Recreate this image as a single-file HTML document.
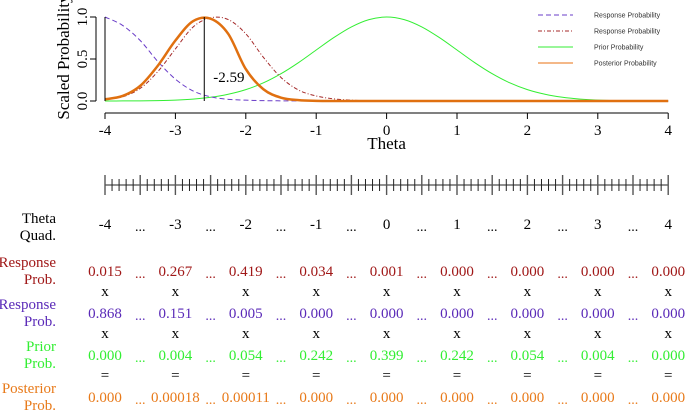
<!DOCTYPE html>
<html><head><meta charset="utf-8"><style>
body{margin:0;background:#fff}
svg{display:block;font-family:"Liberation Serif",serif}
</style></head><body>
<svg id="c" width="685" height="410" viewBox="0 0 685 410"></svg>
<script>
const thetaGrid=[-4,-3.75,-3.5,-3.25,-3,-2.75,-2.5,-2.25,-2,-1.75,-1.5,-1.25,-1,-0.75,-0.5,-0.25,0,0.25,0.5,0.75,1,1.25,1.5,1.75,2,2.25,2.5,2.75,3,3.25,3.5,3.75,4];
const purpleVals=[1.0,0.9,0.72,0.47,0.26,0.12,0.05,0.02,0.01,0.004,0.002,0.001,0,0,0,0,0,0,0,0,0,0,0,0,0,0,0,0,0,0,0,0,0];
const redVals=[0.02,0.05,0.15,0.35,0.62,0.88,0.99,0.97,0.8,0.52,0.28,0.13,0.06,0.025,0.01,0.004,0.001,0,0,0,0,0,0,0,0,0,0,0,0,0,0,0,0];
const greenVals=[0.0003,0.0009,0.002,0.005,0.011,0.023,0.044,0.08,0.135,0.216,0.325,0.458,0.607,0.755,0.882,0.969,1,0.969,0.882,0.755,0.607,0.458,0.325,0.216,0.135,0.08,0.044,0.023,0.011,0.005,0.002,0.0009,0.0003];
const orangeVals=[0.02,0.06,0.18,0.42,0.72,0.95,0.98,0.8,0.38,0.14,0.04,0.01,0.002,0,0,0,0,0,0,0,0,0,0,0,0,0,0,0,0,0,0,0,0];
const xTicks=[-4,-3,-2,-1,0,1,2,3,4];
const yTicks=[0,0.5,1];
const yTickLabels=["0.0","0.5","1.0"];
const posteriorMode=-2.59;
const quadLabels=["-4","-3","-2","-1","0","1","2","3","4"];
const respRed=["0.015","0.267","0.419","0.034","0.001","0.000","0.000","0.000","0.000"];
const respPurple=["0.868","0.151","0.005","0.000","0.000","0.000","0.000","0.000","0.000"];
const priorVals=["0.000","0.004","0.054","0.242","0.399","0.242","0.054","0.004","0.000"];
const postVals=["0.000","0.00018","0.00011","0.000","0.000","0.000","0.000","0.000","0.000"];

const NS="http://www.w3.org/2000/svg";
const svg=document.getElementById('c');
const X=t=>105+(t+4)*70.4;
const Y=v=>101-v*84;
function el(tag,attrs,parent){const e=document.createElementNS(NS,tag);for(const k in attrs)e.setAttribute(k,attrs[k]);(parent||svg).appendChild(e);return e;}
function txt(s,x,y,attrs){const e=el('text',Object.assign({x:x,y:y},attrs||{}));e.textContent=s;return e;}
function smooth(xs,ys){const p=xs.map((t,i)=>[X(t),Y(ys[i])]);let d="M"+p[0][0]+","+p[0][1];
for(let i=0;i<p.length-1;i++){const p0=p[Math.max(0,i-1)],p1=p[i],p2=p[i+1],p3=p[Math.min(p.length-1,i+2)];
d+=" C"+(p1[0]+(p2[0]-p0[0])/6)+","+(p1[1]+(p2[1]-p0[1])/6)+" "+(p2[0]-(p3[0]-p1[0])/6)+","+(p2[1]-(p3[1]-p1[1])/6)+" "+p2[0]+","+p2[1];}return d;}

let g=el('g',{});

el('line',{x1:X(-4),y1:113,x2:X(4),y2:113,stroke:'#000','stroke-width':1},g);
xTicks.forEach(t=>{el('line',{x1:X(t),y1:113,x2:X(t),y2:119,stroke:'#000'},g);const l=txt(String(t),X(t),135,{'text-anchor':'middle','font-size':15});g.appendChild(l);});
const xt=txt("Theta",X(0),149,{'text-anchor':'middle','font-size':17});

let gy=el('g',{});

el('line',{x1:96,y1:Y(0),x2:96,y2:Y(1),stroke:'#000'},gy);
yTicks.forEach((v,i)=>{el('line',{x1:90,y1:Y(v),x2:96,y2:Y(v),stroke:'#000'},gy);const l=txt(yTickLabels[i],0,0,{'text-anchor':'middle','font-size':15,transform:`translate(87,${Y(v)}) rotate(-90)`});gy.appendChild(l);});
const yt=txt("Scaled Probability",0,0,{'text-anchor':'middle','font-size':17,transform:'translate(69,57) rotate(-90)'});


const s1=el('path',{d:smooth(thetaGrid,greenVals),fill:'none',stroke:'#33ee33','stroke-width':1});

const s2=el('path',{d:smooth(thetaGrid,purpleVals),fill:'none',stroke:'#6a3dc8','stroke-width':1,'stroke-dasharray':'5,3'});

const s3=el('path',{d:smooth(thetaGrid,redVals),fill:'none',stroke:'#a52a2a','stroke-width':1,'stroke-dasharray':'4,2,1,2'});

const s4=el('path',{d:smooth(thetaGrid,orangeVals),fill:'none',stroke:'#e07010','stroke-width':2.5});

const v1=el('line',{x1:X(-4),y1:Y(0),x2:X(-4),y2:Y(1),stroke:'#000'});

const v2=el('line',{x1:X(posteriorMode),y1:Y(0),x2:X(posteriorMode),y2:Y(1),stroke:'#000'});

const ml=txt(String(posteriorMode),X(posteriorMode)+9,82,{'font-size':15});


const leg=[["Response Probability",'#6a3dc8','5,3',1],["Response Probability",'#a52a2a','4,2,1,2',1],["Prior Probability",'#33ee33','',1],["Posterior Probability",'#f0a060','',1.5]];
leg.forEach((L,i)=>{const y=15+i*16;const lg=el('g',{});

el('line',{x1:538,y1:y,x2:573,y2:y,stroke:L[1],'stroke-width':L[3],'stroke-dasharray':L[2]},lg);
const t=txt(L[0],594,y+2.5,{'font-size':7,'font-family':'Liberation Sans, sans-serif',fill:'#333'});lg.appendChild(t);});

const rg=el('g',{});

el('line',{x1:X(-4),y1:185,x2:X(4),y2:185,stroke:'#222'},rg);
for(let i=0;i<=80;i++){const x=X(-4)+i*7.04;const maj=i%5===0;el('line',{x1:x,y1:maj?175:179,x2:x,y2:maj?195:191,stroke:maj?'#555':'#222','stroke-width':maj?1.4:1},rg);}

function label(lines,color,y0){const t=el('text',{'text-anchor':'end','font-size':15,fill:color});lines.forEach((s,i)=>{const ts=el('tspan',{x:56,y:y0+i*17},t);ts.textContent=s;});return t;}
const rows=[[["Theta","Quad."],'#000',218,quadLabels,229],[["Response","Prob."],'#a01818',262,respRed,276],[["Response","Prob."],'#5a2ab8',304,respPurple,318],[["Prior","Prob."],'#33ee33',346,priorVals,360],[["Posterior","Prob."],'#e87a1a',388,postVals,402]];
rows.forEach((r,ri)=>{const lb=label(r[0],r[1],r[2]+5);

r[3].forEach((v,i)=>{const c=txt(v,X(i-4),r[4],{'text-anchor':'middle','font-size':15,fill:r[1]});

if(i<8){const d=txt("...",X(i-3.5),r[4]+2,{'text-anchor':'middle','font-size':14,fill:r[1]});
}});});
const ops=[["x",296],["x",338],["=",380]];
ops.forEach(o=>{for(let i=0;i<9;i++){const t=txt(o[0],X(i-4),o[1],{'text-anchor':'middle','font-size':15,fill:'#000'});
}});
</script>
</body></html>
